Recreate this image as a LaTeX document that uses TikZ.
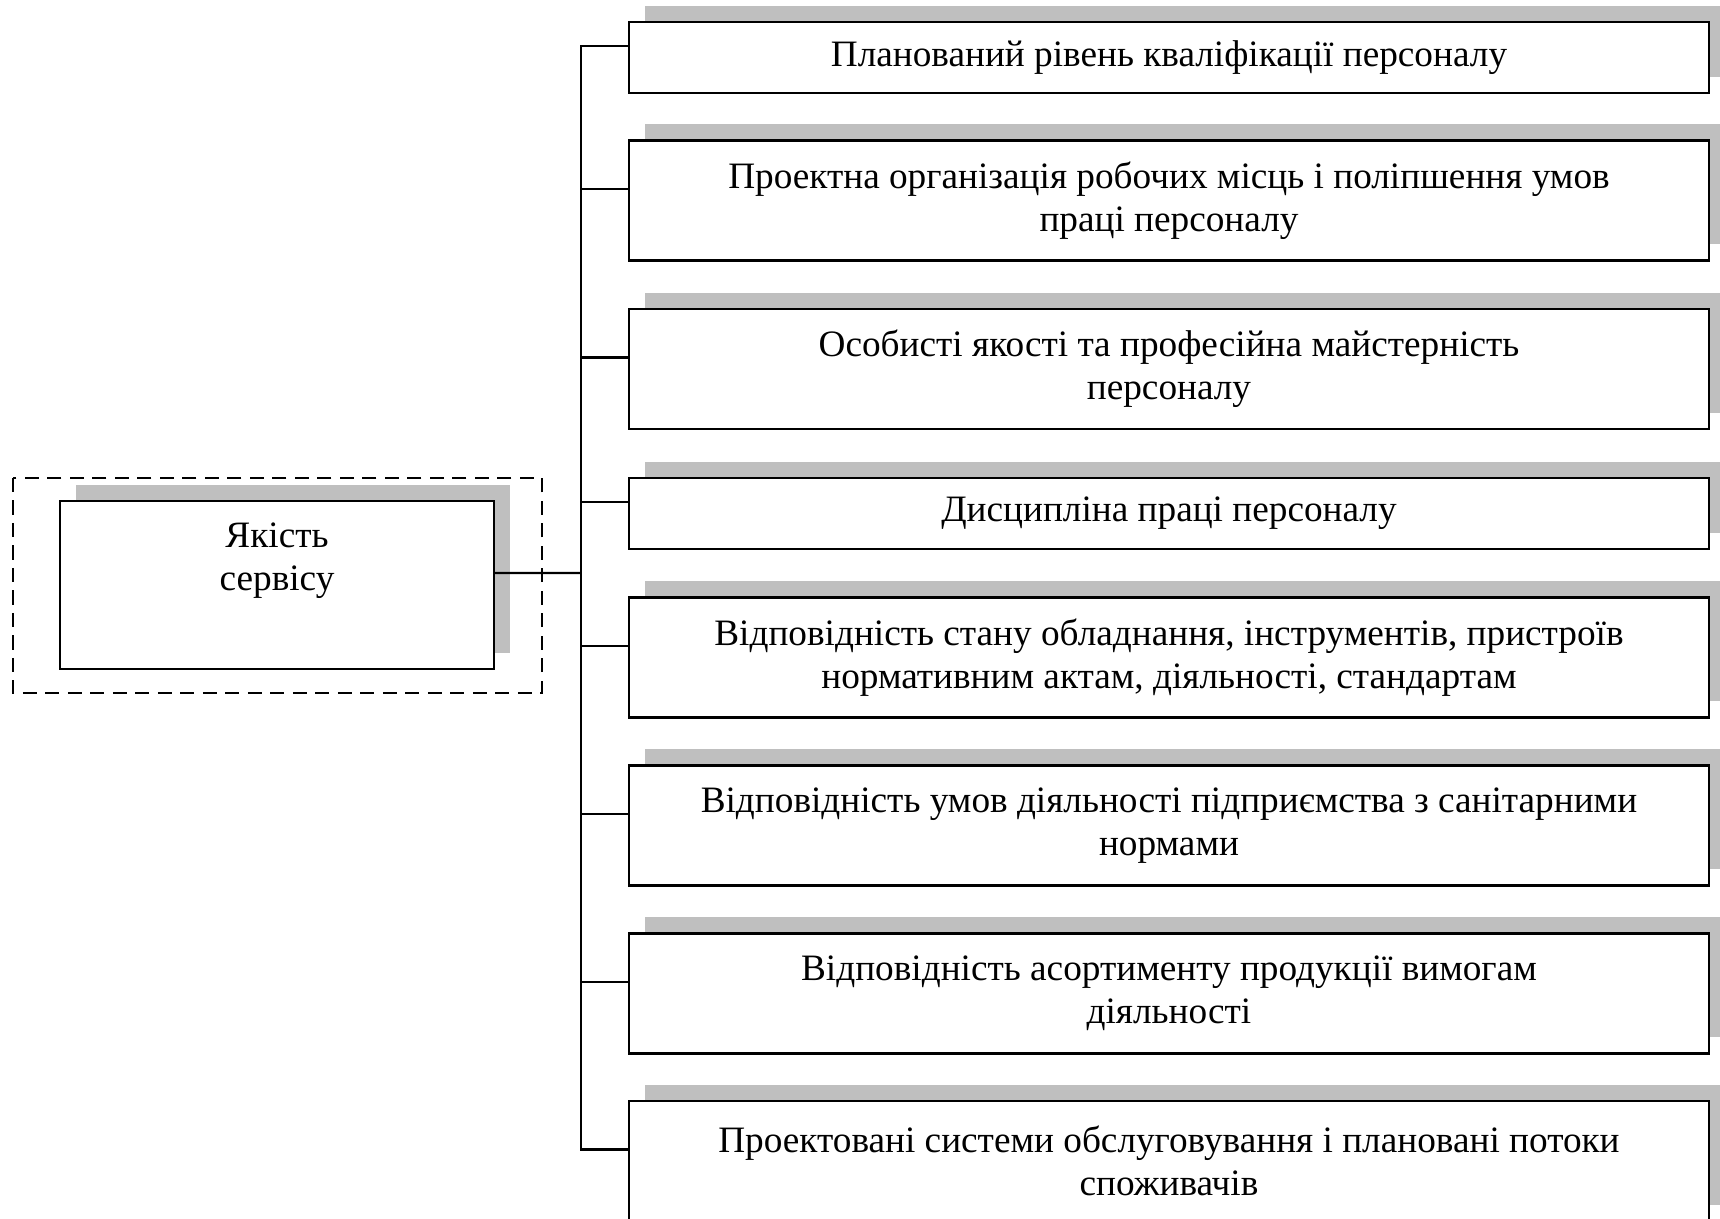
\documentclass[tikz,border=0pt]{standalone}
\usepackage{fontspec}
\setmainfont{Liberation Serif}
\usetikzlibrary{shadows,calc}
\definecolor{shadowgray}{RGB}{191,191,191}

\begin{document}
\begin{tikzpicture}[y=-1cm, font=\fontsize{10.6}{12.2}\selectfont, line width=0.6pt]
    \tikzset{shade/.style={drop shadow={shadow xshift=0.16cm, shadow yshift=0.16cm, fill=shadowgray, opacity=1}}}
    \tikzset{box/.style={draw, fill=white, shade, align=center, inner sep=0pt, minimum width=10.8cm, minimum height=1.2cm}}
    \tikzset{onebox/.style={box, minimum height=0.71cm}}
    \useasboundingbox (0,0) rectangle (17.2,12.19);
    % main block
    \draw[dash pattern=on 4pt off 2.4pt] (0.13,4.78) rectangle (5.42,6.93);
    \node[draw, fill=white, shade, minimum width=4.34cm, minimum height=1.68cm,
        label={[align=center, yshift=0.245cm]center:Якість\\сервісу}] (hub) at (2.77,5.85) {};
    % factors
    \node[onebox] (q1) at (11.69,0.575) {Планований рівень кваліфікації персоналу};
    \node[box] (q2) at (11.69,2.005) {Проектна організація робочих місць і поліпшення умов\\праці персоналу};
    \node[box] (q3) at (11.69,3.69) {Особисті якості та професійна майстерність\\персоналу};
    \node[onebox] (q4) at (11.69,5.135) {Дисципліна праці персоналу};
    \node[box] (q5) at (11.69,6.575) {Відповідність стану обладнання, інструментів, пристроїв\\нормативним актам, діяльності, стандартам};
    \node[box] (q6) at (11.69,8.255) {Відповідність умов діяльності підприємства з санітарними\\нормами};
    \node[box] (q7) at (11.69,9.935) {Відповідність асортименту продукції вимогам\\діяльності};
    \node[box] (q8) at (11.69,11.61) {Проектовані системи обслуговування і плановані потоки\\споживачів};
    % connectors
    \coordinate (trunk) at (5.81,5.73);
    \coordinate (t1) at ($(q1.west)+(0,-0.115)$);
    \coordinate (t2) at ($(q2.west)+(0,-0.115)$);
    \coordinate (t3) at ($(q3.west)+(0,-0.115)$);
    \coordinate (t4) at ($(q4.west)+(0,-0.115)$);
    \coordinate (t5) at ($(q5.west)+(0,-0.115)$);
    \coordinate (t6) at ($(q6.west)+(0,-0.115)$);
    \coordinate (t7) at ($(q7.west)+(0,-0.115)$);
    \coordinate (t8) at ($(q8.west)+(0,-0.115)$);
    \draw ($(hub.east)+(0,-0.12)$) -- (trunk);
    \draw (t1) -| (trunk |- t8) -- (t8);
    \draw (t2) -- (trunk |- t2);
    \draw (t3) -- (trunk |- t3);
    \draw (t4) -- (trunk |- t4);
    \draw (t5) -- (trunk |- t5);
    \draw (t6) -- (trunk |- t6);
    \draw (t7) -- (trunk |- t7);
\end{tikzpicture}
\end{document}
